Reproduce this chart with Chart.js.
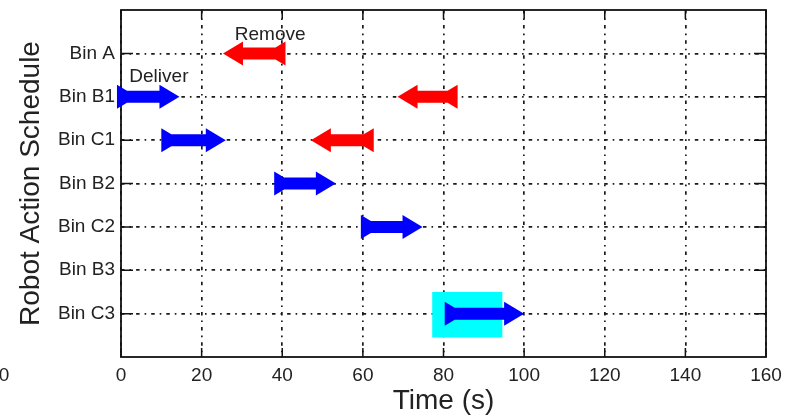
<!DOCTYPE html>
<html>
<head>
<meta charset="utf-8">
<script src="https://cdn.jsdelivr.net/npm/chart.js@4.4.1/dist/chart.umd.min.js"></script>
<style>
  html, body { margin: 0; padding: 0; background: #fff; }
</style>
</head>
<body>
<canvas id="myChart" width="785" height="418"></canvas>
<script>
var fontFam = "'Liberation Sans', Arial, Helvetica, sans-serif"

// rows from top to bottom
var rows = ['Bin A', 'Bin B1', 'Bin C1', 'Bin B2', 'Bin C2', 'Bin B3', 'Bin C3']
var xTicks = [0, 20, 40, 60, 80, 100, 120, 140, 160]

// deliver arrows (blue, pointing right), times in s
var deliverRow = ['Bin B1', 'Bin C1', 'Bin B2', 'Bin C2', 'Bin C3']
var deliverStart = [-1, 10, 38, 59.5, 80.3]
var deliverEnd = [14.5, 26, 53.3, 74.8, 100]

// remove arrows (red, pointing left)
var removeRow = ['Bin A', 'Bin B1', 'Bin C1']
var removeStart = [40.8, 83.5, 62.7]
var removeEnd = [25.3, 68.6, 47.1]

// highlighted box round the last delivery
var boxX = [77.2, 94.6]
var boxY = [0.45, 1.5]

// text notes: [text, x, y]
var notes = [['Remove', 37, 7.42], ['Deliver', 9.4, 6.46]]

function rowValue(name) {
  return rows.length - rows.indexOf(name)
}

var datasets = []
deliverRow.forEach((r, i) => {
  datasets.push({
    label: 'Deliver',
    data: [{x: deliverStart[i], y: rowValue(r)}, {x: deliverEnd[i], y: rowValue(r)}],
    arrowColor: '#0000ff',
    showLine: false,
    pointRadius: 0
  })
})
removeRow.forEach((r, i) => {
  datasets.push({
    label: 'Remove',
    data: [{x: removeStart[i], y: rowValue(r)}, {x: removeEnd[i], y: rowValue(r)}],
    arrowColor: '#ff0000',
    showLine: false,
    pointRadius: 0
  })
})

// arrow with flared tail, from (x0,y) to tip (x1,y)
function drawArrow(ctx, x0, x1, y, color) {
  var dir = x1 > x0 ? 1 : -1
  var shaft = 6, head = 12, headLen = 20, tail = 12, tailLen = 10
  ctx.save()
  ctx.fillStyle = color
  ctx.beginPath()
  ctx.moveTo(x0, y - tail)
  ctx.lineTo(x0 + dir * tailLen, y - shaft)
  ctx.lineTo(x1 - dir * headLen, y - shaft)
  ctx.lineTo(x1 - dir * headLen, y - head)
  ctx.lineTo(x1, y)
  ctx.lineTo(x1 - dir * headLen, y + head)
  ctx.lineTo(x1 - dir * headLen, y + shaft)
  ctx.lineTo(x0 + dir * tailLen, y + shaft)
  ctx.lineTo(x0, y + tail)
  ctx.closePath()
  ctx.fill()
  ctx.restore()
}

const schedulePlugin = {
  id: 'schedule',
  beforeDatasetsDraw(chart) {
    const ctx = chart.ctx, xs = chart.scales.x, ys = chart.scales.y
    var l = xs.getPixelForValue(boxX[0]), r = xs.getPixelForValue(boxX[1])
    var t = ys.getPixelForValue(boxY[1]), b = ys.getPixelForValue(boxY[0])
    ctx.save()
    ctx.fillStyle = '#00ffff'
    ctx.fillRect(l, t, r - l, b - t)
    ctx.restore()
  },
  afterDatasetsDraw(chart) {
    const ctx = chart.ctx, a = chart.chartArea, xs = chart.scales.x, ys = chart.scales.y
    var tk = 9
    ctx.save()
    ctx.strokeStyle = '#111'
    ctx.lineWidth = 1.5
    ctx.beginPath()
    xTicks.forEach(v => {
      var px = xs.getPixelForValue(v)
      ctx.moveTo(px, a.top); ctx.lineTo(px, a.top + tk)
      ctx.moveTo(px, a.bottom); ctx.lineTo(px, a.bottom - tk)
    })
    rows.forEach(r => {
      var py = ys.getPixelForValue(rowValue(r))
      ctx.moveTo(a.left, py); ctx.lineTo(a.left + tk + 3, py)
      ctx.moveTo(a.right, py); ctx.lineTo(a.right - tk - 3, py)
    })
    ctx.stroke()
    ctx.lineWidth = 1.8
    ctx.strokeRect(a.left, a.top, a.right - a.left, a.bottom - a.top)
    ctx.restore()

    chart.data.datasets.forEach((ds, i) => {
      const pts = chart.getDatasetMeta(i).data
      drawArrow(ctx, pts[0].x, pts[1].x, pts[0].y, ds.arrowColor)
    })

    ctx.save()
    ctx.fillStyle = '#222'
    ctx.font = '19px ' + fontFam
    ctx.textAlign = 'center'
    ctx.textBaseline = 'middle'
    notes.forEach(n => {
      ctx.fillText(n[0], xs.getPixelForValue(n[1]), ys.getPixelForValue(n[2]))
    })
    // cut-off tick label of a neighbouring plot
    ctx.fillText('0', xs.getPixelForValue(-29), xs.top + 19)
    ctx.restore()
  }
}

const ctx = document.getElementById('myChart')
new Chart(ctx, {
  type: 'scatter',
  data: { datasets: datasets },
  plugins: [schedulePlugin],
  options: {
    responsive: false,
    animation: false,
    devicePixelRatio: 1,
    layout: { padding: { top: 10, right: 19, left: 0, bottom: 0 } },
    plugins: {
      legend: { display: false },
      tooltip: { enabled: false }
    },
    scales: {
      x: {
        type: 'linear',
        min: 0,
        max: 160,
        afterBuildTicks: s => { s.ticks = xTicks.map(v => ({value: v})) },
        afterFit: s => { s.height = 61; s.paddingLeft = 0; s.paddingRight = 0 },
        ticks: {
          color: '#222',
          padding: 7,
          maxRotation: 0,
          font: { family: fontFam, size: 19 }
        },
        grid: { color: '#1a1a1a', lineWidth: 1.7, drawTicks: false },
        border: { display: false, dash: [3.5, 5, 1.6, 5] },
        title: {
          display: true,
          text: 'Time (s)',
          color: '#222',
          padding: { top: 0, bottom: 0 },
          font: { family: fontFam, size: 28 }
        }
      },
      y: {
        type: 'linear',
        min: 0,
        max: rows.length + 1,
        afterBuildTicks: s => { s.ticks = rows.map(r => ({value: rowValue(r)})) },
        afterFit: s => { s.width = 121; s.paddingTop = 0; s.paddingBottom = 0 },
        ticks: {
          color: '#222',
          padding: 6,
          font: { family: fontFam, size: 19 },
          callback: v => rows[rows.length - v] || ''
        },
        grid: { color: '#1a1a1a', lineWidth: 1.7, drawTicks: false },
        border: { display: false, dash: [3.5, 5, 1.6, 5] },
        title: {
          display: true,
          text: 'Robot Action Schedule',
          color: '#222',
          padding: { top: 14, bottom: 0 },
          font: { family: fontFam, size: 28 }
        }
      }
    }
  }
})
</script>
</body>
</html>
